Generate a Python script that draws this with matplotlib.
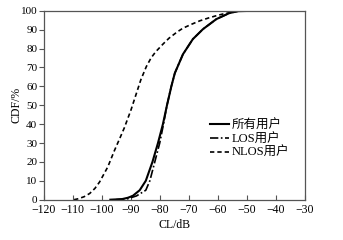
import matplotlib
matplotlib.use("Agg")
import matplotlib.pyplot as plt

plt.rcParams['font.family'] = ['Liberation Serif', 'Noto Sans CJK SC']
plt.rcParams['axes.unicode_minus'] = True

# CDF curves (x: CL in dB, y: CDF in %)
all_x = [-97, -93, -91, -89.3, -86.9, -84.8, -82.5, -80.6, -78.9, -77.5,
         -76, -74.8, -72, -68.6, -65.1, -60.5, -56, -53, -48, -42.5]
all_y = [0, 0.3, 1, 2, 5, 10, 20, 30, 40, 50,
         60, 67, 77, 85, 90.3, 95.6, 98.8, 99.8, 100, 100]

los_x = [-95, -91, -88, -84.8, -83.4, -81.7, -80, -78.7, -77.5,
         -76, -74.8, -72, -68.6, -65.1, -60.5, -56, -53, -48, -44]
los_y = [0, 0.5, 2, 5, 10, 20, 30, 40, 50,
         60, 67, 77, 85, 90.3, 95.6, 98.8, 99.8, 100, 100]

nlos_x = [-109.5, -108, -106, -104.1, -102.3, -100.7, -97.9, -95.6, -93.6, -92.2,
          -89.9, -88.2, -86.5, -84.6, -83, -81.4, -78.8, -76.8, -74, -72, -69,
          -66.2, -63, -60.5, -58, -55.9, -53.6]
nlos_y = [0, 0.5, 1.6, 3.3, 6, 9.4, 17.3, 26, 33, 38,
          47.5, 55.5, 63.5, 70.5, 75, 78.3, 82.5, 85.5, 88.8, 90.8, 92.9,
          94.7, 96.3, 97.4, 98.4, 99, 100]

labels = ['所有用户', 'LOS用户', 'NLOS用户']
xticks = list(range(-120, -29, 10))
yticks = list(range(0, 101, 10))

fig = plt.figure(figsize=(3.43, 2.40), dpi=100)
ax = fig.add_axes([0.127, 0.168, 0.762, 0.787])

ax.plot(all_x, all_y, color='k', lw=1.5, label=labels[0])
ax.plot(los_x, los_y, color='k', lw=1.2, dashes=(5, 1.5, 1, 1.5), label=labels[1])
ax.plot(nlos_x, nlos_y, color='k', lw=1.2, dashes=(2.6, 1.8), label=labels[2])

ax.set_xlim(-120, -30)
ax.set_ylim(0, 100)
ax.set_xticks(xticks)
ax.set_yticks(yticks)
ax.tick_params(axis='x', direction='in', length=3.5, labelsize=8.5, pad=3, color='#555555')
ax.tick_params(axis='y', direction='out', length=3.5, labelsize=8, pad=1, color='#555555')
for s in ax.spines.values():
    s.set_color('#555555')
    s.set_linewidth(0.9)

ax.set_xlabel('CL/dB', fontsize=8.5, labelpad=2)
ax.set_ylabel('CDF/%', fontsize=8.5)
ax.yaxis.set_label_coords(-0.082, 0.5)

ax.legend(loc='upper left', bbox_to_anchor=(0.635, 0.425), frameon=False,
          fontsize=9, handlelength=1.55, handletextpad=0.25, labelspacing=0.15,
          borderpad=0, borderaxespad=0)

fig.savefig('out.png', dpi=100)
